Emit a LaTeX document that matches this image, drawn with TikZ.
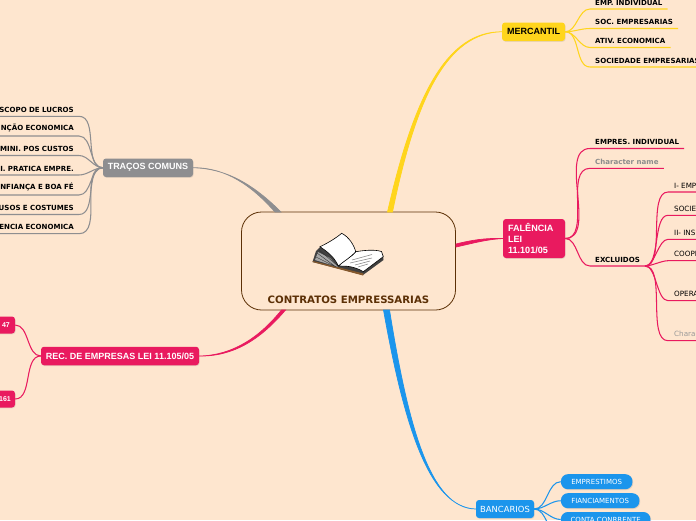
\documentclass[tikz,border=0pt]{standalone}
\usepackage{fontspec}
\setmainfont{Liberation Sans}
\newfontfamily\leaffont{DejaVu Sans}
\usetikzlibrary{shadows}
\definecolor{paper}{HTML}{FEE6CF}
\definecolor{rootline}{HTML}{5C3006}
\definecolor{mercline}{HTML}{FFD51C}
\definecolor{faleline}{HTML}{E91A5F}
\definecolor{tracline}{HTML}{8E8E90}
\definecolor{bancline}{HTML}{1B95EC}

\begin{document}
\begin{tikzpicture}[
  x=1pt, y=-1pt,
  topic/.style={rounded corners=3pt, inner sep=0pt, align=left, font=\bfseries\fontsize{9}{11}\selectfont,
    drop shadow={opacity=.18, shadow xshift=.6pt, shadow yshift=-.8pt}},
  leaf/.style={anchor=south west, inner xsep=5pt, inner ysep=3.6pt, font=\leaffont\bfseries\fontsize{7.05}{9}\selectfont},
  leftleaf/.style={leaf, anchor=south east, text width=90pt, align=right},
  outleaf/.style={anchor=south west, inner xsep=6pt, inner ysep=3.5pt, minimum width=30pt, align=left, font=\leaffont\fontsize{7.2}{9}\selectfont},
  pill/.style={anchor=west, rounded corners=7pt, fill=bancline, text=white, inner sep=0pt, minimum height=15pt, font=\leaffont\fontsize{7}{9}\selectfont,
    drop shadow={opacity=.25, shadow xshift=.8pt, shadow yshift=-.8pt}},
  branch/.style={fill=#1, draw=#1, line width=.7pt},
  link/.style={line width=1.05pt, out=0, in=180, looseness=.9},
  backlink/.style={line width=1.05pt, out=180, in=0, looseness=.9}
]
\useasboundingbox (0,0) rectangle (696,520);
\fill[paper] (0,0) rectangle (696,520);

% central topic
\node[draw=rootline, line width=.8pt, rounded corners=20pt, minimum width=214pt, minimum height=98pt, inner sep=0pt] (root) at (348.5,261) {};
\node[text=rootline, font=\leaffont\bfseries\fontsize{10.2}{12}\selectfont, inner sep=0pt] (roottitle) at (348.5,300) {CONTRATOS EMPRESSARIAS};

% book
\fill[black!75] (320,247) -- (316,251) -- (312.5,262) -- (363,275) -- (383.5,260) -- (383,255) -- (355,252) -- cycle;
\fill[brown!70!black] (312.5,262) -- (363,275.5) -- (363.5,273.5) -- (313,261) -- cycle;
\fill[black!35] (318,252) -- (315,260) -- (338,267) -- (330,258) -- cycle;
\draw[black!80, line width=.4pt] (319,250) -- (338,266) (317,253) -- (336,267) (316,257) -- (334,266);
\draw[black, fill=white, line width=.6pt] (338.3,266) .. controls (346,258) and (352,257) .. (355.7,251.7)
  .. controls (366,250) and (375,249.5) .. (381.5,251.5) -- (383.3,256.7) -- (363.3,271.7) .. controls (354,266) and (346,266) .. cycle;
\draw[black!45, line width=.6pt] (352,260) -- (372,254.5) (350,263) -- (372,258) (355,265) -- (370,261) (358,267) -- (368,264);
\draw[black, fill=white, line width=.6pt] (320,246.7) .. controls (328,243) and (336,238) .. (341.7,233.3)
  .. controls (349,237) and (354,245) .. (355.7,251.7) .. controls (350,258) and (344,261) .. (338.3,266)
  .. controls (334,256) and (326,251) .. cycle;

% topics
\node[topic, fill=mercline, text=black, minimum width=63pt, minimum height=18.5pt] (merc) at (533.5,31.75) {MERCANTIL};
\node[topic, fill=faleline, text=white, minimum width=62pt, minimum height=39pt, text width=52pt, font=\bfseries\fontsize{9.1}{11.2}\selectfont] (fale) at (534,238.5) {FALÊNCIA\\LEI\\11.101/05};
\node[topic, fill=tracline, text=white, minimum width=90pt, minimum height=18.5pt] (trac) at (148,167.75) {TRAÇOS COMUNS};
\node[topic, fill=faleline, text=white, minimum width=158pt, minimum height=18.5pt] (rec) at (120,356) {REC. DE EMPRESAS LEI 11.105/05};
\node[topic, fill=faleline, text=white, minimum width=30pt, minimum height=17pt, font=\bfseries\fontsize{7}{9}\selectfont] (art47) at (0,325) {\hspace{12pt}47};
\node[topic, fill=faleline, text=white, minimum width=30pt, minimum height=17pt, font=\bfseries\fontsize{7}{9}\selectfont] (art161) at (0,399) {\hspace{10pt}161};
\node[topic, fill=bancline, text=white, minimum width=58pt, minimum height=18pt, font=\leaffont\fontsize{8.4}{10}\selectfont] (banc) at (505,509) {BANCARIOS};

% tapered main branches
\coordinate (mercA) at (387.5,212);
\coordinate (mercB) at (392.5,212);
\coordinate (faleA) at (456,244);
\coordinate (faleB) at (456,247);
\coordinate (tracA) at (275,212);
\coordinate (tracB) at (281,212);
\coordinate (recA) at (281.5,310);
\coordinate (recB) at (285.5,310);
\coordinate (bancA) at (383.5,310);
\coordinate (bancB) at (389.5,310);
\path[branch=mercline] (merc.west) .. controls (447,31.5) and (414,95) .. (mercA) -- (mercB) .. controls (416,97) and (447,33) .. (merc.west);
\path[branch=faleline] (fale.west) .. controls (485,238) and (472,240) .. (faleA) -- (faleB) .. controls (474,243) and (486,239.5) .. (fale.west);
\path[branch=tracline] (trac.east) .. controls (226,167.3) and (252,186) .. (tracA) -- (tracB) .. controls (253,184) and (226,168.5) .. (trac.east);
\path[branch=faleline] (rec.east) .. controls (232,355.5) and (259,338) .. (recA) -- (recB) .. controls (260,340) and (233,356.6) .. (rec.east);
\path[branch=bancline] (banc.west) .. controls (429,507.5) and (404,425) .. (bancA) -- (bancB) .. controls (408,425) and (430,508.7) .. (banc.west);

% mercantil leaves
\node[leaf] (empind) at (590,9) {EMP. INDIVIDUAL};
\node[leaf] (socemp) at (590,28.5) {SOC. EMPRESARIAS};
\node[leaf] (ativ) at (590,47.5) {ATIV. ECONOMICA};
\node[leaf] (socied) at (590,67) {SOCIEDADE EMPRESARIAS};
\foreach \leafname in {empind,socemp,ativ,socied}
  \draw[mercline, link] (merc.east) to (\leafname.south west) -- (\leafname.south east);

% falencia leaves
\node[leaf] (empres) at (590,148.5) {EMPRES. INDIVIDUAL};
\node[leaf, text=black!45] (charname) at (590,168.3) {Character name};
\node[leaf] (excl) at (590,266) {EXCLUIDOS};
\foreach \leafname in {empres,charname,excl}
  \draw[faleline, link] (fale.east) to (\leafname.south west) -- (\leafname.south east);

\node[outleaf] (exa) at (668,192) {I- EMP};
\node[outleaf] (exb) at (668,215.3) {SOCIE};
\node[outleaf] (exc) at (668,239.3) {II- INS};
\node[outleaf] (exd) at (668,260.7) {COOPE};
\node[outleaf] (exe) at (668,300.7) {OPERA};
\node[outleaf, text=black!40] (exf) at (668,340.7) {Charac};
\foreach \leafname in {exa,exb,exc,exd,exe,exf}
  \draw[faleline, link, looseness=.7] (excl.south east) to (\leafname.south west) -- (\leafname.south east);

% tracos comuns leaves
\node[leftleaf] (lucros) at (79,116.3) {SCOPO DE LUCROS};
\node[leftleaf] (funcao) at (79,136) {NÇÃO ECONOMICA};
\node[leftleaf] (custos) at (79,155.5) {MINI. POS CUSTOS};
\node[leftleaf] (pratica) at (79,175) {I. PRATICA EMPRE.};
\node[leftleaf] (boafe) at (79,195) {NFIANÇA E BOA FÉ};
\node[leftleaf] (usos) at (79,214.5) {USOS E COSTUMES};
\node[leftleaf] (encia) at (79,233.7) {ENCIA ECONOMICA};
\foreach \leafname in {lucros,funcao,custos,pratica,boafe,usos,encia}
  \draw[tracline, backlink] (trac.west) to (\leafname.south east) -- (\leafname.south west);

% rec. de empresas leaves
\draw[faleline, backlink] (rec.west) to (art47.east);
\draw[faleline, backlink] (rec.west) to (art161.east);

% bancarios leaves
\node[pill, minimum width=71.5pt] (emprest) at (560.7,481.7) {EMPRESTIMOS};
\node[pill, minimum width=78.5pt] (financ) at (560.7,500.7) {FIANCIAMENTOS};
\node[pill, minimum width=89.5pt] (conta) at (560.7,519.5) {CONTA CONRRENTE};
\coordinate (bancout) at (560,535);
\foreach \leafname in {emprest,financ,conta}
  \draw[bancline, link] (banc.east) to (\leafname.west);
\draw[bancline, link] (banc.east) to (bancout);
\end{tikzpicture}
\end{document}
